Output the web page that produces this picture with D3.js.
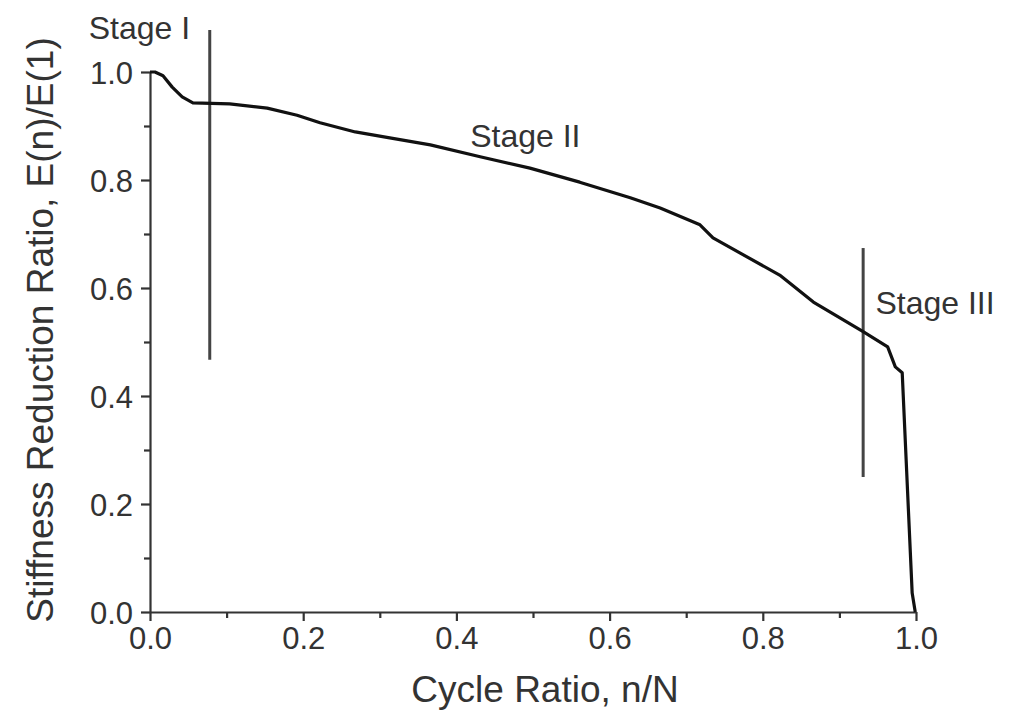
<!DOCTYPE html>
<html>
<head>
<meta charset="utf-8">
<script src="https://d3js.org/d3.v7.min.js"></script>
<style>
	body { margin: 0; background: #fff; }
	svg { display: block; font-family: "Liberation Sans", Arial, sans-serif; }
</style>
</head>
<body>
<script>

// cycle ratio n/N and stiffness ratio E(n)/E(1)
const cycleRatio = [0, 0.0065, 0.017, 0.029, 0.042, 0.056, 0.104, 0.153, 0.192, 0.222,
	0.268, 0.313, 0.366, 0.431, 0.496, 0.561, 0.627, 0.666, 0.718, 0.735,
	0.770, 0.822, 0.866, 0.931, 0.963, 0.973, 0.982, 0.995, 0.999];
const stiffness = [1.0, 1.0, 0.993, 0.972, 0.954, 0.943, 0.941, 0.933, 0.920, 0.906,
	0.889, 0.878, 0.865, 0.843, 0.822, 0.796, 0.767, 0.748, 0.717, 0.693,
	0.665, 0.624, 0.574, 0.519, 0.491, 0.454, 0.443, 0.035, 0.0];

// stage divider lines: x position, y from, y to
const stageLines = [[0.078, 1.078, 0.467], [0.931, 0.674, 0.25]];
const stageLabels = ["Stage I", "Stage II", "Stage III"];
const stageLabelPos = [[-0.08, 1.062], [0.418, 0.862], [0.947, 0.551]];

const majorTicks = [0, 0.2, 0.4, 0.6, 0.8, 1.0];
const minorTicks = [0.1, 0.3, 0.5, 0.7, 0.9];

const width = 1014, height = 725;
const mLeft = 150, mRight = 916, mTop = 72, mBottom = 612;

var x = d3.scaleLinear().domain([0, 1]).range([mLeft, mRight]);
var y = d3.scaleLinear().domain([0, 1]).range([mBottom, mTop]);

var svg = d3.select("body").append("svg")
	.attr("width", width)
	.attr("height", height);

// minor ticks first, then major axes on top
svg.append("g")
	.attr("transform", "translate(0," + mBottom + ")")
	.call(d3.axisBottom(x).tickValues(minorTicks).tickSize(6).tickFormat(""))
	.call(g => g.select(".domain").remove());
svg.append("g")
	.attr("transform", "translate(" + mLeft + ",0)")
	.call(d3.axisLeft(y).tickValues(minorTicks).tickSize(6).tickFormat(""))
	.call(g => g.select(".domain").remove());

var xAxis = svg.append("g")
	.attr("transform", "translate(0," + mBottom + ")")
	.call(d3.axisBottom(x).tickValues(majorTicks).tickSize(9).tickSizeOuter(0).tickPadding(6).tickFormat(d3.format(".1f")));
var yAxis = svg.append("g")
	.attr("transform", "translate(" + mLeft + ",0)")
	.call(d3.axisLeft(y).tickValues(majorTicks).tickSize(9).tickSizeOuter(0).tickPadding(8).tickFormat(d3.format(".1f")));

svg.selectAll(".tick line, .domain")
	.attr("stroke", "#333")
	.attr("stroke-width", 2.2);
svg.selectAll(".tick text")
	.attr("font-size", 31)
	.attr("fill", "#333")
	.attr("font-family", "Liberation Sans, Arial, sans-serif");
yAxis.selectAll(".tick text").attr("dy", "0.36em");

// stage divider lines
svg.selectAll(".stage-line")
	.data(stageLines)
	.enter()
	.append("line")
	.attr("class", "stage-line")
	.attr("x1", d => x(d[0]))
	.attr("x2", d => x(d[0]))
	.attr("y1", d => y(d[1]))
	.attr("y2", d => y(d[2]))
	.attr("stroke", "#444")
	.attr("stroke-width", 3);

// stiffness curve
var line = d3.line()
	.x((d, i) => x(cycleRatio[i]))
	.y((d, i) => y(stiffness[i]));

svg.append("path")
	.datum(stiffness)
	.attr("d", line)
	.attr("fill", "none")
	.attr("stroke", "#111")
	.attr("stroke-width", 3.2)
	.attr("stroke-linejoin", "round");

svg.selectAll(".stage-label")
	.data(stageLabels)
	.enter()
	.append("text")
	.attr("class", "stage-label")
	.attr("x", (d, i) => x(stageLabelPos[i][0]))
	.attr("y", (d, i) => y(stageLabelPos[i][1]))
	.attr("font-size", 32)
	.attr("fill", "#333")
	.text(d => d);

svg.append("text")
	.attr("x", (mLeft + mRight) / 2 + 12)
	.attr("y", 702)
	.attr("text-anchor", "middle")
	.attr("font-size", 37)
	.attr("fill", "#333")
	.text("Cycle Ratio, n/N");

svg.append("text")
	.attr("transform", "translate(53," + 330 + ") rotate(-90)")
	.attr("text-anchor", "middle")
	.attr("font-size", 37)
	.attr("fill", "#333")
	.text("Stiffness Reduction Ratio, E(n)/E(1)");

</script>
</body>
</html>
